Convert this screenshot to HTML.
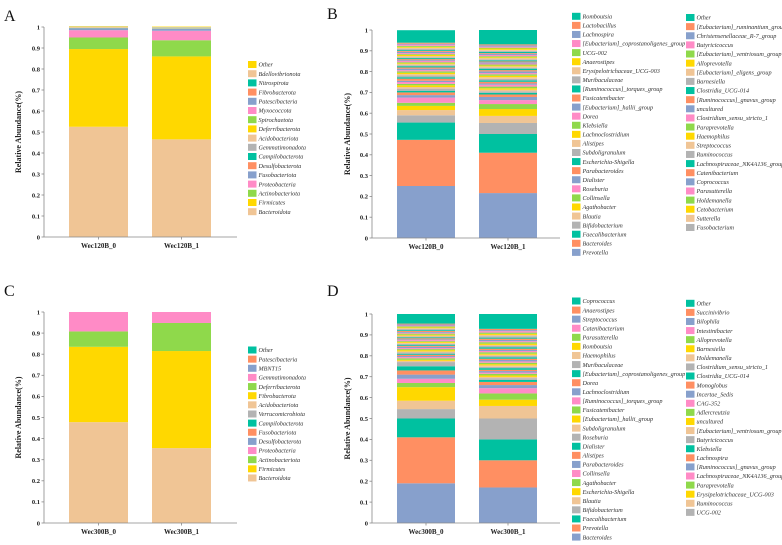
<!DOCTYPE html>
<html><head><meta charset="utf-8"><style>
html,body{margin:0;padding:0;background:#fff;}
svg{display:block;font-family:"Liberation Serif",serif;}
svg text{font-family:"Liberation Serif",serif;}
.tk{font-size:6.5px;font-weight:bold;fill:#222;}
.yt{font-size:8px;font-weight:bold;fill:#222;}
.xl{font-size:7px;font-weight:bold;fill:#222;}
.lg{font-size:6.2px;font-style:italic;fill:#333;}
.pl{font-size:16px;fill:#111;}
</style></head><body>
<svg id="fig" width="782" height="545" viewBox="0 0 782 545">
<text class="pl" x="4" y="21">A</text>
<text class="pl" x="327" y="19">B</text>
<text class="pl" x="4" y="296">C</text>
<text class="pl" x="327" y="296">D</text>
</svg>
<script>
const ticks=["0","0.1","0.2","0.3","0.4","0.5","0.6","0.7","0.8","0.9","1"];
const cyc=["#00C1A0","#FF8F62","#87A0CC","#FF8BC6","#8FD94B","#FFD800","#F0C595","#B3B3B3"];

// Panel A (legend order, top-down; stacked bottom-up from last)
const aCats=["Other","Bdellovibrionota","Nitrospirota","Fibrobacterota","Patescibacteria","Myxococcota","Spirochaetota","Deferribacterota","Acidobacteriota","Gemmatimonadota","Campilobacterota","Desulfobacterota","Fusobacteriota","Proteobacteria","Actinobacteriota","Firmicutes","Bacteroidota"];
const aColors=["#FFD800","#F0C595","#00C1A0","#FF8F62","#87A0CC","#FF8BC6","#8FD94B","#FFD800","#F0C595","#B3B3B3","#00C1A0","#FF8F62","#87A0CC","#FF8BC6","#8FD94B","#FFD800","#F0C595"];
const aS0=[0.002,0.0005,0.0005,0.0005,0.0005,0.001,0.001,0.001,0.001,0.001,0.001,0.001,0.008,0.035,0.055,0.37,0.525];
const aS1=[0.002,0.0005,0.0005,0.0005,0.0005,0.001,0.001,0.001,0.001,0.001,0.001,0.001,0.009,0.045,0.077,0.395,0.465];

// Panel C
const cCats=["Other","Patescibacteria","MBNT15","Gemmatimonadota","Deferribacterota","Fibrobacterota","Acidobacteriota","Verrucomicrobiota","Campilobacterota","Fusobacteriota","Desulfobacterota","Proteobacteria","Actinobacteriota","Firmicutes","Bacteroidota"];
const cS0=[0,0,0,0,0,0,0,0,0,0,0,0.092,0.073,0.357,0.478];
const cS1=[0,0,0,0,0,0,0,0,0,0,0,0.052,0.133,0.46,0.355];

// Panel B (col2 top-down then col1 top-down)
const bCats=["Other","[Eubacterium]_ruminantium_group","Christensenellaceae_R-7_group","Butyricicoccus","[Eubacterium]_ventriosum_group","Alloprevotella","[Eubacterium]_eligens_group","Barnesiella","Clostridia_UCG-014","[Ruminococcus]_gnavus_group","uncultured","Clostridium_sensu_stricto_1","Paraprevotella","Haemophilus","Streptococcus","Ruminococcus","Lachnospiraceae_NK4A136_group","Catenibacterium","Coprococcus","Parasutterella","Holdemanella","Cetobacterium","Sutterella","Fusobacterium",
"Romboutsia","Lactobacillus","Lachnospira","[Eubacterium]_coprostanoligenes_group","UCG-002","Anaerostipes","Erysipelotrichaceae_UCG-003","Muribaculaceae","[Ruminococcus]_torques_group","Fusicatenibacter","[Eubacterium]_hallii_group","Dorea","Klebsiella","Lachnoclostridium","Alistipes","Subdoligranulum","Escherichia-Shigella","Parabacteroides","Dialister","Roseburia","Collinsella","Agathobacter","Blautia","Bifidobacterium","Faecalibacterium","Bacteroides","Prevotella"];
const bS0=[0.06,0.005,0.004,0.006,0.005,0.004,0.005,0.006,0.004,0.005,0.006,0.005,0.004,0.005,0.006,0.004,0.005,0.005,0.004,0.006,0.005,0.004,0.005,0.005,
0.006,0.006,0.007,0.006,0.007,0.006,0.007,0.008,0.007,0.01,0.006,0.009,0.007,0.008,0.008,0.01,0.008,0.013,0.012,0.025,0.015,0.02,0.025,0.035,0.083,0.222,0.25];
const bS1=[0.069,0.005,0.006,0.005,0.004,0.006,0.005,0.005,0.006,0.004,0.005,0.006,0.005,0.004,0.006,0.005,0.005,0.004,0.006,0.005,0.005,0.004,0.006,0.005,
0.007,0.006,0.008,0.006,0.007,0.007,0.008,0.007,0.007,0.008,0.006,0.009,0.008,0.007,0.008,0.007,0.008,0.012,0.015,0.019,0.024,0.033,0.034,0.053,0.09,0.194,0.216];

// Panel D
const dCats=["Other","Succinivibrio","Bilophila","Intestinibacter","Alloprevotella","Barnesiella","Holdemanella","Clostridium_sensu_stricto_1","Clostridia_UCG-014","Monoglobus","Incertae_Sedis","CAG-352","Adlercreutzia","uncultured","[Eubacterium]_ventriosum_group","Butyricicoccus","Klebsiella","Lachnospira","[Ruminococcus]_gnavus_group","Lachnospiraceae_NK4A136_group","Paraprevotella","Erysipelotrichaceae_UCG-003","Ruminococcus","UCG-002",
"Coprococcus","Anaerostipes","Streptococcus","Catenibacterium","Parasutterella","Romboutsia","Haemophilus","Muribaculaceae","[Eubacterium]_coprostanoligenes_group","Dorea","Lachnoclostridium","[Ruminococcus]_torques_group","Fusicatenibacter","[Eubacterium]_hallii_group","Subdoligranulum","Roseburia","Dialister","Alistipes","Parabacteroides","Collinsella","Agathobacter","Escherichia-Shigella","Blautia","Bifidobacterium","Faecalibacterium","Prevotella","Bacteroides"];
const dS0=[0.046,0.004,0.005,0.004,0.005,0.004,0.004,0.005,0.004,0.005,0.004,0.004,0.005,0.004,0.005,0.004,0.004,0.005,0.004,0.005,0.004,0.004,0.005,0.004,
0.005,0.005,0.006,0.005,0.005,0.006,0.005,0.006,0.005,0.006,0.005,0.006,0.007,0.005,0.006,0.02,0.02,0.02,0.02,0.02,0.02,0.065,0.04,0.045,0.09,0.22,0.19];
const dS1=[0.071,0.006,0.005,0.007,0.006,0.005,0.006,0.007,0.005,0.006,0.006,0.005,0.007,0.006,0.005,0.006,0.007,0.006,0.005,0.006,0.007,0.005,0.006,0.006,
0.007,0.006,0.007,0.006,0.007,0.006,0.007,0.006,0.008,0.006,0.007,0.006,0.008,0.007,0.006,0.008,0.01,0.015,0.015,0.025,0.03,0.03,0.06,0.1,0.1,0.13,0.17];

const NS="http://www.w3.org/2000/svg";
const svg=document.getElementById("fig");
function mk(tag,attrs,parent){const e=document.createElementNS(NS,tag);for(const k in attrs)e.setAttribute(k,attrs[k]);(parent||svg).appendChild(e);return e;}

function panel(id,cfg){
  const g=mk("g",{});
  
  
  const y=v=>cfg.bottom-(cfg.bottom-cfg.top)*v;
  [cfg.s0,cfg.s1].forEach((series,bi)=>{
    const bx=cfg.barX[bi];
    let acc=0;
    for(let i=series.length-1;i>=0;i--){
      const v=series[i];
      if(v<=0)continue;
      const r=mk("rect",{x:bx,y:y(acc+v),width:cfg.barW,height:Math.max(0,y(acc)-y(acc+v)),fill:cfg.colors[i]},g);
      
      
      acc+=v;
    }
    const xl=mk("text",{x:bx+cfg.barW/2,y:cfg.bottom+11,"text-anchor":"middle",class:"xl"},g);
    xl.textContent=cfg.names[bi];
    
    
    mk("line",{x1:bx+cfg.barW/2,x2:bx+cfg.barW/2,y1:cfg.bottom,y2:cfg.bottom+2.5,stroke:"#888","stroke-width":0.8},g);
  });
  const ya=mk("line",{x1:cfg.ax,x2:cfg.ax,y1:cfg.top,y2:cfg.bottom,stroke:"#888","stroke-width":0.8},g);
  
  
  const xa=mk("line",{x1:cfg.ax,x2:cfg.axEnd,y1:cfg.bottom,y2:cfg.bottom,stroke:"#888","stroke-width":0.8},g);
  
  
  ticks.forEach((t,i)=>{
    const ty=y(i/10);
    mk("line",{x1:cfg.ax-2.5,x2:cfg.ax,y1:ty,y2:ty,stroke:"#888","stroke-width":0.8},g);
    const tt=mk("text",{x:cfg.ax-4,y:ty+2.3,"text-anchor":"end",class:"tk"},g);
    tt.textContent=t;
    
    
  });
  const cy=(cfg.top+cfg.bottom)/2;
  const yt=mk("text",{x:cfg.titleX,y:cy,"text-anchor":"middle",class:"yt",transform:`rotate(-90 ${cfg.titleX} ${cy})`},g);
  yt.textContent="Relative Abundance(%)";
  
  
  cfg.legend.forEach(col=>{
    for(let k=0;k<col.n;k++){
      const i=col.start+k;
      const cyv=col.y0+k*col.step;
      const le=mk("g",{},g);
      
      
      mk("rect",{x:col.x,y:cyv-3.5,width:8.5,height:7,fill:cfg.colors[i]},le);
      const lt=mk("text",{x:col.x+10.5,y:cyv+2.2,class:"lg"},le);
      lt.textContent=cfg.cats[i];
    }
  });
}
const cycColors=n=>Array.from({length:n},(_,i)=>cyc[i%8]);

panel("panel-a",{cats:aCats,colors:aColors,s0:aS0,s1:aS1,names:["Wec120B_0","Wec120B_1"],ax:44,axEnd:237,top:27,bottom:237,barX:[69,152],barW:59,titleX:21,
  legend:[{start:0,n:17,x:248,y0:64.5,step:9.2}]});
panel("panel-b",{cats:bCats,colors:cycColors(bCats.length),s0:bS0,s1:bS1,names:["Wec120B_0","Wec120B_1"],ax:372,axEnd:560,top:30,bottom:238,barX:[397,479],barW:58,titleX:350,
  legend:[{start:24,n:27,x:572,y0:16.3,step:9.08},{start:0,n:24,x:686,y0:17.5,step:9.13}]});
panel("panel-c",{cats:cCats,colors:cycColors(cCats.length),s0:cS0,s1:cS1,names:["Wec300B_0","Wec300B_1"],ax:44,axEnd:237,top:312,bottom:523,barX:[69,152],barW:59,titleX:21,
  legend:[{start:0,n:15,x:248,y0:350,step:9.14}]});
panel("panel-d",{cats:dCats,colors:cycColors(dCats.length),s0:dS0,s1:dS1,names:["Wec300B_0","Wec300B_1"],ax:372,axEnd:560,top:314,bottom:523,barX:[397,479],barW:58,titleX:350,
  legend:[{start:24,n:27,x:572,y0:301,step:9.08},{start:0,n:24,x:686,y0:303.3,step:9.09}]});
</script>
</body></html>
